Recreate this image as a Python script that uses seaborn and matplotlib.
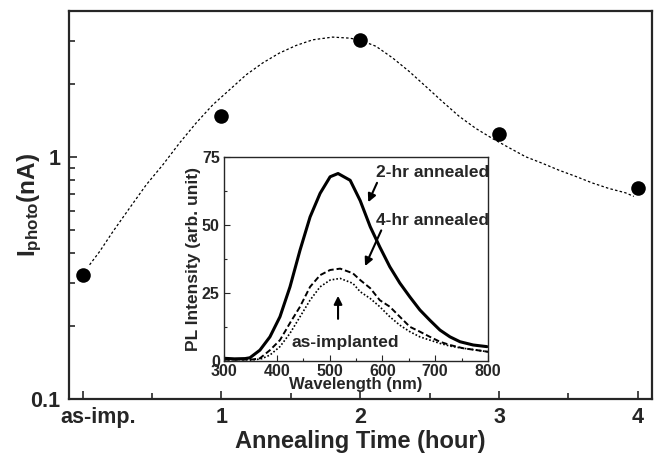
import numpy as np
import pandas as pd
import seaborn as sns
import matplotlib.pyplot as plt
import matplotlib.transforms as mtransforms
from matplotlib.ticker import LogLocator, FixedLocator, NullFormatter, MultipleLocator

# main panel: photocurrent vs annealing time
hours = [0, 1, 2, 3, 4]
hour_labels = ['as-imp.', '1', '2', '3', '4']
i_photo = [0.325, 1.47, 3.04, 1.24, 0.746]

# guide-to-the-eye dashed curve
fit_x = [0.05, 0.122, 0.218, 0.338, 0.458, 0.578, 0.698, 0.818, 0.938, 1.058, 1.178,
         1.297, 1.417, 1.537, 1.657, 1.801, 1.921, 1.993, 2.113, 2.233, 2.353, 2.473,
         2.592, 2.712, 2.832, 2.952, 3.072, 3.192, 3.312, 3.432, 3.552, 3.671, 3.791,
         3.911, 3.971]
fit_y = [0.358, 0.406, 0.491, 0.614, 0.766, 0.927, 1.14, 1.38, 1.64, 1.89, 2.18,
         2.44, 2.68, 2.88, 3.04, 3.12, 3.09, 3.04, 2.86, 2.56, 2.25, 1.95,
         1.69, 1.47, 1.31, 1.19, 1.09, 1.0, 0.94, 0.88, 0.83, 0.78, 0.74,
         0.71, 0.686]

# inset: PL spectra
wl_2hr = [300, 320, 340, 349, 368, 387, 406, 425, 444, 463, 482, 501, 516, 539, 558,
          577, 595, 614, 633, 652, 671, 690, 709, 728, 747, 772, 798]
pl_2hr = [1.0, 0.8, 0.9, 1.2, 4.0, 8.9, 16.3, 27.3, 40.8, 53.0, 61.7, 67.8, 69.0, 66.5, 59.0,
          49.4, 42.0, 34.7, 28.7, 23.6, 18.8, 15.0, 11.4, 8.9, 7.1, 5.9, 5.3]

wl_4hr = [300, 330, 355, 368, 387, 406, 425, 444, 463, 482, 501, 520, 544, 558, 577,
          595, 614, 633, 652, 671, 690, 709, 728, 753, 779, 800]
pl_4hr = [0.5, 0.5, 0.6, 1.0, 4.0, 7.7, 14.0, 20.0, 27.3, 31.6, 33.5, 34.0, 32.3, 29.8, 26.8,
          22.4, 20.0, 16.3, 12.6, 10.8, 8.9, 7.1, 5.9, 4.7, 4.0, 3.4]

wl_asimp = [300, 330, 360, 372, 387, 406, 425, 444, 463, 482, 501, 520, 544, 558, 577,
            595, 614, 633, 652, 671, 690, 709, 728, 753, 779, 800]
pl_asimp = [0.5, 0.5, 0.5, 0.9, 2.2, 5.3, 10.2, 16.3, 22.4, 27.3, 29.8, 30.4, 28.6, 25.5, 23.0,
            20.0, 16.3, 13.2, 10.8, 8.9, 7.7, 6.5, 5.5, 4.7, 4.0, 3.4]

sns.set_style('ticks')
plt.rcParams['font.family'] = ['Liberation Sans', 'DejaVu Sans']
plt.rcParams['font.weight'] = 'bold'
plt.rcParams['mathtext.fontset'] = 'custom'
plt.rcParams['mathtext.bf'] = 'Liberation Sans:bold'
plt.rcParams['mathtext.rm'] = 'Liberation Sans:bold'
plt.rcParams['mathtext.default'] = 'bf'

fig = plt.figure(figsize=(6.55, 4.57), dpi=100)
ax = fig.add_axes([0.105, 0.127, 0.890, 0.849])

sns.lineplot(x=fit_x, y=fit_y, ax=ax, color='black', linewidth=0.9,
             linestyle=(0, (2.0, 1.8)), estimator=None, sort=False)
sns.scatterplot(x=hours, y=i_photo, ax=ax, color='black', s=110,
                edgecolor='black', linewidth=0, zorder=5)

ax.set_yscale('log')
ax.set_ylim(0.1, 4.0)
ax.set_xlim(-0.1, 4.1)
ax.yaxis.set_major_locator(FixedLocator([0.1, 1]))
ax.set_yticklabels(['0.1', '1'])
ax.yaxis.set_minor_locator(LogLocator(base=10, subs=[2, 3, 4, 5, 6, 7, 8, 9]))
ax.yaxis.set_minor_formatter(NullFormatter())
ax.set_xticks(hours)
ax.set_xticklabels(hour_labels)
ax.xaxis.set_minor_locator(MultipleLocator(0.5))

for s in ax.spines.values():
    s.set_linewidth(1.6)
ax.tick_params(which='both', direction='in', top=False, right=False, labelsize=15.5, width=1.2)
ax.tick_params(which='major', length=6, pad=6)
ax.tick_params(which='minor', length=4)
for lab in ax.get_xticklabels() + ax.get_yticklabels():
    lab.set_fontweight('bold')

# the as-imp. label sits a bit to the right of its tick in the original
shift = mtransforms.ScaledTranslation(16 / 100, 0, fig.dpi_scale_trans)
first = ax.get_xticklabels()[0]
first.set_transform(first.get_transform() + shift)

ax.set_xlabel('Annealing Time (hour)', fontsize=17, fontweight='bold', labelpad=1)
ax.set_ylabel(r'I$_{photo}$(nA)', fontsize=17.5, fontweight='bold')
ax.yaxis.set_label_coords(-0.043, 0.5)

# inset
ins = fig.add_axes([0.342, 0.210, 0.403, 0.446])
sns.lineplot(x=wl_2hr, y=pl_2hr, ax=ins, color='black', linewidth=2.2, estimator=None)
sns.lineplot(x=wl_4hr, y=pl_4hr, ax=ins, color='black', linewidth=1.4,
             linestyle=(0, (3, 1.5)), estimator=None)
sns.lineplot(x=wl_asimp, y=pl_asimp, ax=ins, color='black', linewidth=1.2,
             linestyle=(0, (1, 1.2)), estimator=None)

ins.set_xlim(300, 800)
ins.set_ylim(0, 75)
ins.set_xticks([300, 400, 500, 600, 700, 800])
ins.set_yticks([0, 25, 50, 75])
ins.xaxis.set_minor_locator(MultipleLocator(50))
ins.yaxis.set_minor_locator(MultipleLocator(12.5))
for s in ins.spines.values():
    s.set_linewidth(1.0)
ins.tick_params(which='both', direction='in', top=False, right=False, labelsize=11.5, width=0.8)
ins.tick_params(axis='x', which='major', length=4, pad=2)
ins.tick_params(axis='y', which='major', length=4, pad=3)
ins.tick_params(which='minor', length=2)
for lab in ins.get_xticklabels() + ins.get_yticklabels():
    lab.set_fontweight('bold')
ins.set_xlabel('Wavelength (nm)', fontsize=12, fontweight='bold', labelpad=-1)
ins.set_ylabel('PL Intensity (arb. unit)', fontsize=12.5, fontweight='bold', labelpad=1)

arrow = dict(arrowstyle='-|>', color='black', lw=1.5, mutation_scale=12)
ins.text(588, 69.5, '2-hr annealed', fontsize=12.5, fontweight='bold', ha='left', va='center')
ins.annotate('', xy=(571, 57.5), xytext=(592, 66.5), arrowprops=arrow)
ins.text(588, 51.8, '4-hr annealed', fontsize=12.5, fontweight='bold', ha='left', va='center')
ins.annotate('', xy=(565, 34.0), xytext=(600, 49), arrowprops=arrow)
ins.text(529, 7, 'as-implanted', fontsize=12.5, fontweight='bold', ha='center', va='center')
ins.annotate('', xy=(516, 25), xytext=(516, 14.5), arrowprops=arrow)

fig.savefig('out.png', dpi=100)
